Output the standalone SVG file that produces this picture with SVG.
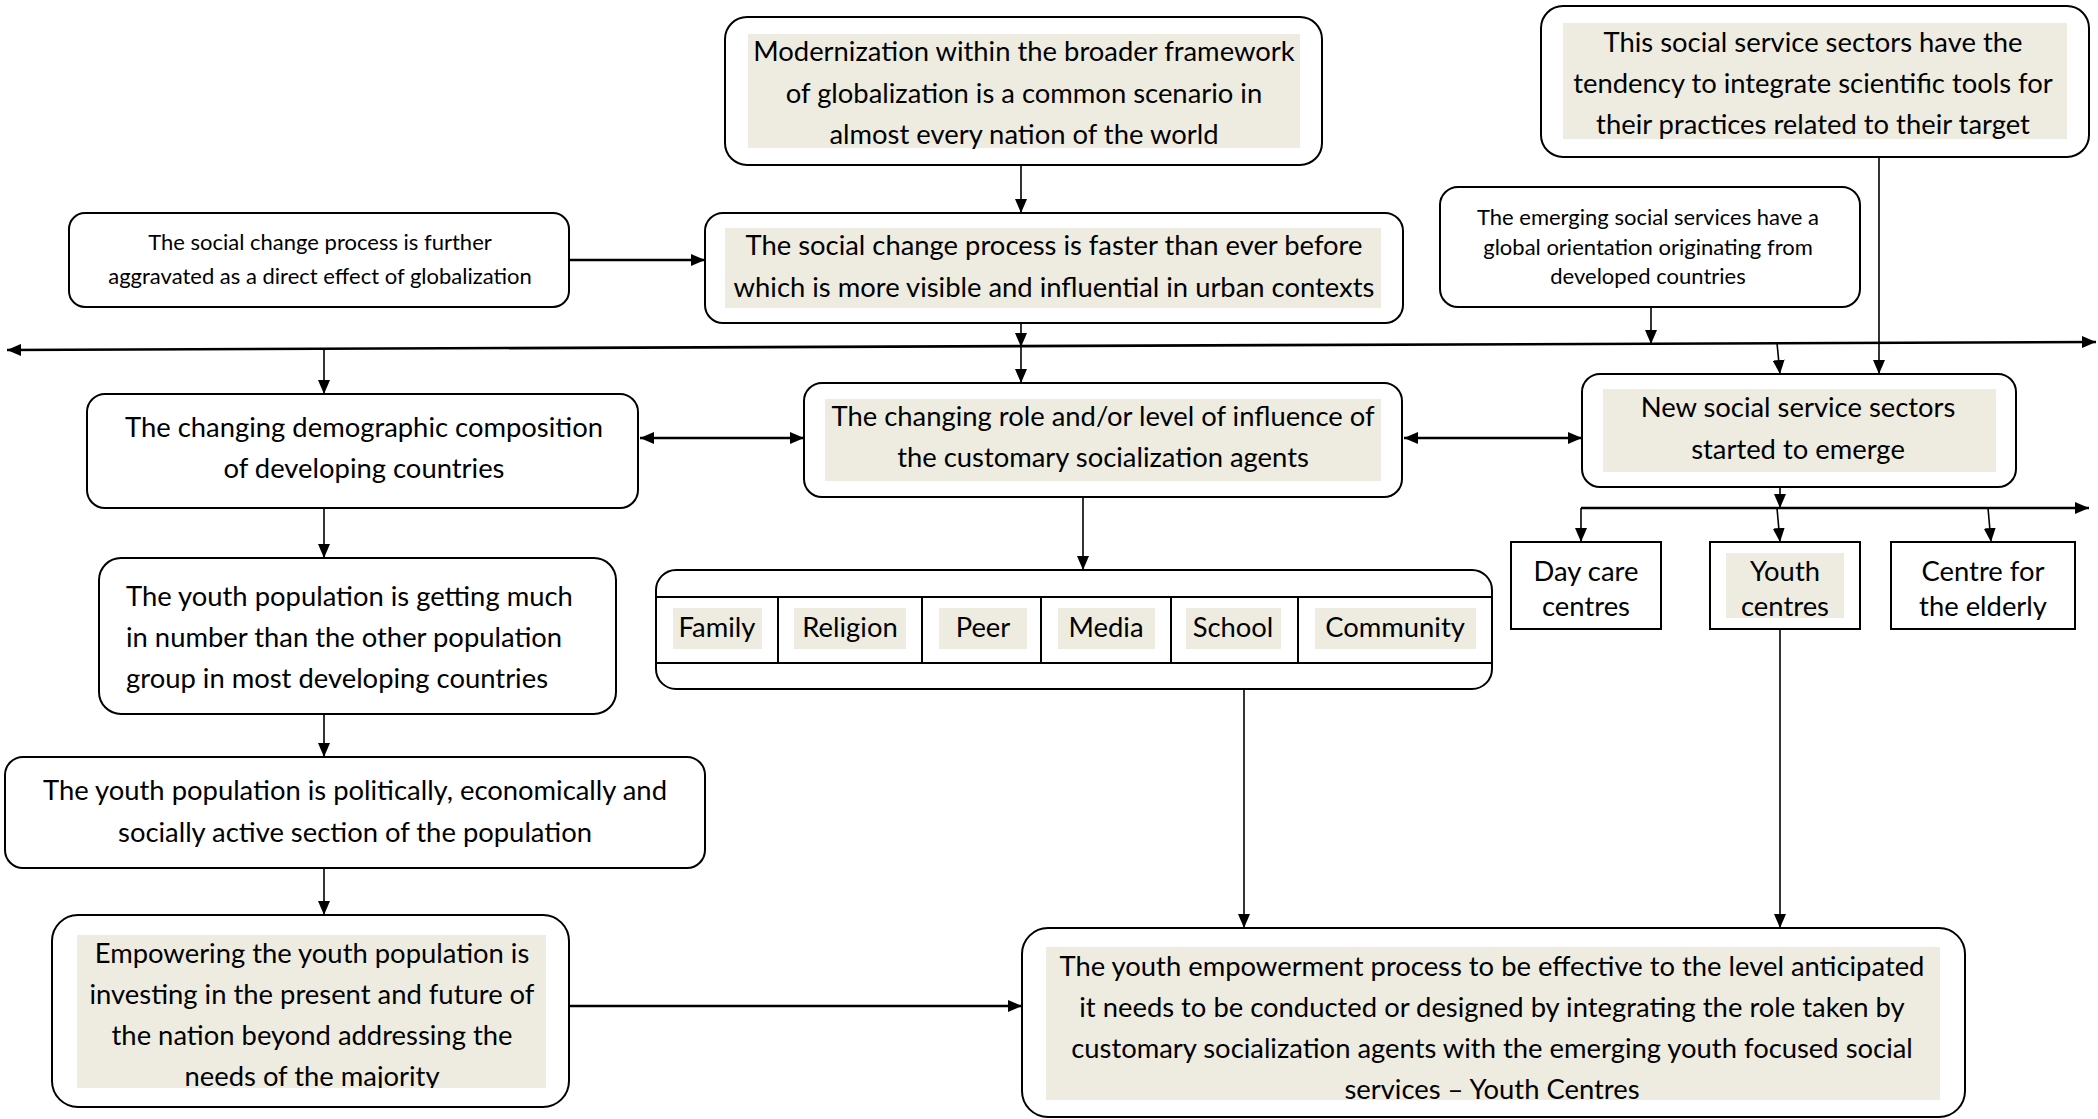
<svg xmlns="http://www.w3.org/2000/svg" width="2098" height="1119" viewBox="0 0 2098 1119">
<style>
.box{fill:#fff;stroke:#000;stroke-width:2}
.hl{fill:#EEECE1}
.t{font-family:Lato,"Liberation Sans",sans-serif;font-size:27.4px;fill:#000;text-anchor:middle}
.s{font-family:Lato,"Liberation Sans",sans-serif;font-size:22px;fill:#000;text-anchor:middle}
.l{text-anchor:start}
.c{fill:none;stroke:#000;stroke-width:1.6}
.w{fill:none;stroke:#000;stroke-width:2.6}
</style>
<defs>
<marker id="a" viewBox="0 0 14 12" refX="14" refY="6" markerWidth="14" markerHeight="12" markerUnits="userSpaceOnUse" orient="auto-start-reverse"><path d="M0,0 L14,6 L0,12 z" fill="#000"/></marker>
<clipPath id="cpE"><rect x="77" y="935" width="469" height="153"/></clipPath>
<clipPath id="cpO"><rect x="1891" y="542" width="184" height="78"/></clipPath>
</defs>

<g id="connectors">
<path class="c" d="M1021,165 V213" marker-end="url(#a)"/>
<path class="w" d="M569,260 H705" marker-end="url(#a)"/>
<path class="c" d="M1021,323 V347" marker-end="url(#a)"/>
<path class="c" d="M1021,347 V383" marker-end="url(#a)"/>
<path class="w" d="M7,350 L2096,342" marker-start="url(#a)" marker-end="url(#a)"/>
<path class="c" d="M324,349 V394" marker-end="url(#a)"/>
<path class="c" d="M1651,307 V344" marker-end="url(#a)"/>
<path class="c" d="M1777,343 L1780,374" marker-end="url(#a)"/>
<path class="c" d="M1879,157 V374" marker-end="url(#a)"/>
<path class="w" d="M640,438 H804" marker-start="url(#a)" marker-end="url(#a)"/>
<path class="w" d="M1404,438 H1582" marker-start="url(#a)" marker-end="url(#a)"/>
<path class="c" d="M324,508 V558" marker-end="url(#a)"/>
<path class="c" d="M324,714 V757" marker-end="url(#a)"/>
<path class="c" d="M324,868 V915" marker-end="url(#a)"/>
<path class="w" d="M569,1006 H1022" marker-end="url(#a)"/>
<path class="c" d="M1083,497 V570" marker-end="url(#a)"/>
<path class="c" d="M1244,689 V928" marker-end="url(#a)"/>
<path class="c" d="M1780,487 V508" marker-end="url(#a)"/>
<path class="w" d="M1581,508 H2089" marker-end="url(#a)"/>
<path class="c" d="M1581,508 V542" marker-end="url(#a)"/>
<path class="c" d="M1777,508 L1780,542" marker-end="url(#a)"/>
<path class="c" d="M1988,508 L1991,542" marker-end="url(#a)"/>
<path class="c" d="M1780,629 V928" marker-end="url(#a)"/>
</g>

<g id="n-modernization">
<rect class="box" x="725" y="17" width="597" height="148" rx="22"/>
<rect class="hl" x="748" y="34" width="552" height="114"/>
<text class="t" x="1024" y="61">Modernization within the broader framework</text>
<text class="t" x="1024" y="103">of globalization is a common scenario in</text>
<text class="t" x="1024" y="144">almost every nation of the world</text>
</g>

<g id="n-scientific">
<rect class="box" x="1541" y="6" width="548" height="151" rx="22"/>
<rect class="hl" x="1563" y="23" width="504" height="116"/>
<text class="t" x="1813" y="52">This social service sectors have the</text>
<text class="t" x="1813" y="93">tendency to integrate scientific tools for</text>
<text class="t" x="1813" y="134">their practices related to their target</text>
</g>

<g id="n-aggravated">
<rect class="box" x="69" y="213" width="500" height="94" rx="16"/>
<text class="s" x="320" y="250">The social change process is further</text>
<text class="s" x="320" y="284">aggravated as a direct effect of globalization</text>
</g>

<g id="n-socialchange">
<rect class="box" x="705" y="213" width="698" height="110" rx="18"/>
<rect class="hl" x="725" y="228" width="656" height="80"/>
<text class="t" x="1054" y="255">The social change process is faster than ever before</text>
<text class="t" x="1054" y="297">which is more visible and influential in urban contexts</text>
</g>

<g id="n-emerging">
<rect class="box" x="1440" y="187" width="420" height="120" rx="18"/>
<text class="s" x="1648" y="225">The emerging social services have a</text>
<text class="s" x="1648" y="255">global orientation originating from</text>
<text class="s" x="1648" y="284">developed countries</text>
</g>

<g id="n-demographic">
<rect class="box" x="87" y="394" width="551" height="114" rx="18"/>
<text class="t" x="364" y="437">The changing demographic composition</text>
<text class="t" x="364" y="478">of developing countries</text>
</g>

<g id="n-changingrole">
<rect class="box" x="804" y="383" width="598" height="114" rx="18"/>
<rect class="hl" x="825" y="399" width="556" height="82"/>
<text class="t" x="1103" y="426">The changing role and/or level of influence of</text>
<text class="t" x="1103" y="467">the customary socialization agents</text>
</g>

<g id="n-newsectors">
<rect class="box" x="1582" y="374" width="434" height="113" rx="18"/>
<rect class="hl" x="1603" y="389" width="393" height="83"/>
<text class="t" x="1798" y="417">New social service sectors</text>
<text class="t" x="1798" y="459">started to emerge</text>
</g>

<g id="n-youthnumber">
<rect class="box" x="99" y="558" width="517" height="156" rx="22"/>
<text class="t l" x="126" y="606">The youth population is getting much</text>
<text class="t l" x="126" y="647">in number than the other population</text>
<text class="t l" x="126" y="688">group in most developing countries</text>
</g>

<g id="n-agents">
<rect class="box" x="656" y="570" width="836" height="119" rx="20"/>
<path class="box" d="M656,597 H1492 M656,663 H1492 M778,597 V663 M922,597 V663 M1041,597 V663 M1171,597 V663 M1298,597 V663"/>
<rect class="hl" x="673" y="608" width="89" height="41"/>
<rect class="hl" x="794" y="608" width="112" height="41"/>
<rect class="hl" x="939" y="608" width="88" height="41"/>
<rect class="hl" x="1058" y="608" width="97" height="41"/>
<rect class="hl" x="1186" y="608" width="95" height="41"/>
<rect class="hl" x="1315" y="608" width="161" height="41"/>
<text class="t" x="717" y="637">Family</text>
<text class="t" x="850" y="637">Religion</text>
<text class="t" x="983" y="637">Peer</text>
<text class="t" x="1106" y="637">Media</text>
<text class="t" x="1233" y="637">School</text>
<text class="t" x="1395" y="637">Community</text>
</g>

<g id="n-daycare">
<rect class="box" x="1511" y="542" width="150" height="87"/>
<text class="t" x="1586" y="581">Day care</text>
<text class="t" x="1586" y="616">centres</text>
</g>

<g id="n-youthcentres">
<rect class="box" x="1710" y="542" width="150" height="87"/>
<rect class="hl" x="1726" y="553" width="118" height="65"/>
<text class="t" x="1785" y="581">Youth</text>
<text class="t" x="1785" y="616">centres</text>
</g>

<g id="n-elderly">
<rect class="box" x="1891" y="542" width="184" height="87"/>
<g clip-path="url(#cpO)">
<text class="t" x="1983" y="581">Centre for</text>
<text class="t" x="1983" y="616">the elderly</text>
</g>
</g>

<g id="n-active">
<rect class="box" x="5" y="757" width="700" height="111" rx="18"/>
<text class="t" x="355" y="800">The youth population is politically, economically and</text>
<text class="t" x="355" y="842">socially active section of the population</text>
</g>

<g id="n-empowering">
<rect class="box" x="52" y="915" width="517" height="192" rx="26"/>
<rect class="hl" x="77" y="935" width="469" height="153"/>
<g clip-path="url(#cpE)">
<text class="t" x="312" y="963">Empowering the youth population is</text>
<text class="t" x="312" y="1004">investing in the present and future of</text>
<text class="t" x="312" y="1045">the nation beyond addressing the</text>
<text class="t" x="312" y="1086">needs of the majority</text>
</g>
</g>

<g id="n-final">
<rect class="box" x="1022" y="928" width="943" height="189" rx="26"/>
<rect class="hl" x="1046" y="947" width="894" height="153"/>
<text class="t" x="1492" y="976">The youth empowerment process to be effective to the level anticipated</text>
<text class="t" x="1492" y="1017">it needs to be conducted or designed by integrating the role taken by</text>
<text class="t" x="1492" y="1058">customary socialization agents with the emerging youth focused social</text>
<text class="t" x="1492" y="1099">services – Youth Centres</text>
</g>
</svg>
